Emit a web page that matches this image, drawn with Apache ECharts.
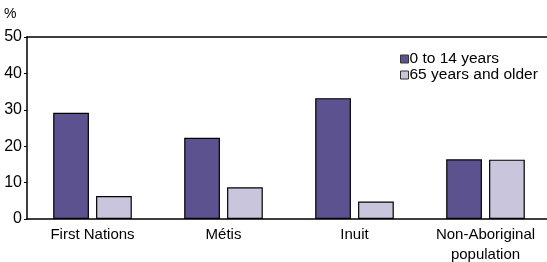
<!DOCTYPE html>
<html>
<head>
<meta charset="utf-8">
<script src="https://cdn.jsdelivr.net/npm/echarts@6/dist/echarts.min.js"></script>
<style>
html,body{margin:0;padding:0;background:#fff;}
#chart{width:547px;height:262px;}
</style>
</head>
<body>
<div id="chart"></div>
<script>
var categories = ['First Nations', 'Métis', 'Inuit', 'Non-Aboriginal\npopulation'];
var youngValues = [29.2, 22.3, 33.2, 16.4];
var oldValues = [6.3, 8.7, 4.8, 16.3];
var yTicks = [0, 10, 20, 30, 40, 50];

var chart = echarts.init(document.getElementById('chart'));
var font = '"Liberation Sans", Arial, sans-serif';
var option = {
    animation: false,
    textStyle: {fontFamily: font},
    grid: {left: 27, right: -4, top: 37, bottom: 43, containLabel: false, outerBoundsMode: 'none'},
    legend: {
        orient: 'vertical',
        left: 395,
        top: 46,
        icon: 'rect',
        itemWidth: 8,
        itemHeight: 8,
        itemGap: 0,
        itemStyle: {borderColor: '#333', borderWidth: 1},
        textStyle: {fontSize: 15.5, color: '#000', fontFamily: font, padding: [0, 0, 0, -4]},
        data: ['0 to 14 years', '65 years and older']
    },
    graphic: [{
        type: 'text',
        left: 4,
        top: 7,
        style: {text: '%', fontSize: 14, fill: '#000', fontFamily: font}
    }],
    xAxis: [{
        type: 'category',
        data: categories,
        axisLine: {lineStyle: {color: '#000', width: 1.5}},
        axisTick: {show: false},
        axisLabel: {color: '#000', fontSize: 15, margin: 6, lineHeight: 20, fontFamily: font}
    }, {
        type: 'category',
        position: 'top',
        data: categories,
        axisLine: {lineStyle: {color: '#000', width: 1.5}},
        axisTick: {show: false},
        axisLabel: {show: false}
    }],
    yAxis: {
        type: 'value',
        min: yTicks[0],
        max: yTicks[yTicks.length - 1],
        interval: 10,
        axisLine: {show: true, lineStyle: {color: '#000', width: 1.5}},
        axisTick: {show: true, length: 3, lineStyle: {color: '#000'}},
        splitLine: {show: false},
        axisLabel: {color: '#000', fontSize: 16, margin: 5, fontFamily: font}
    },
    series: [{
        name: '0 to 14 years',
        type: 'bar',
        data: youngValues,
        barGap: '20%',
        barCategoryGap: '40%',
        itemStyle: {color: '#5b528f', borderColor: '#000', borderWidth: 1.2}
    }, {
        name: '65 years and older',
        type: 'bar',
        data: oldValues,
        itemStyle: {color: '#c8c5dc', borderColor: '#000', borderWidth: 1.2}
    }]
};
chart.setOption(option);
</script>
</body>
</html>
